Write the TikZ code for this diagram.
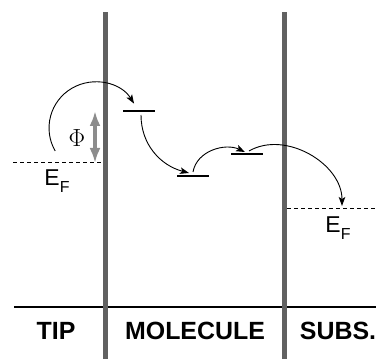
\documentclass[tikz,border=0pt]{standalone}
\usepackage{fontspec}
\setmainfont{Liberation Sans}
\usetikzlibrary{arrows.meta}
\tikzset{
  bar/.style={line width=4.5bp, draw=black!62},
  level/.style={line width=2bp},
  hop/.style={line width=0.9bp, -{Stealth[length=9bp,width=6.5bp,inset=2bp]}},
  fermi/.style={line width=0.9bp, dash pattern=on 4bp off 3bp},
  region/.style={font=\fontsize{25}{28}\selectfont\bfseries},
  eflabel/.style={font=\fontsize{23}{27}\selectfont, inner sep=0pt},
}
\newcommand{\EF}{E\raisebox{-0.28em}{\fontsize{16}{18}\selectfont F}}
\begin{document}
\begin{tikzpicture}[x=1bp,y=1bp]
\useasboundingbox (0,0) rectangle (376,359);
% base line and bars
\coordinate (hl) at (14,52);
\coordinate (hr) at (376,52);
\draw[line width=1.2bp] (hl) -- (hr);
\coordinate (b1t) at (105.5,346.5);
\coordinate (b1b) at (105.5,0);
\coordinate (b2t) at (284.5,346.5);
\coordinate (b2b) at (284.5,0);
\draw[bar] (b1t) -- (b1b);
\draw[bar] (b2t) -- (b2b);
% region labels
\node[region] (tip) at (56,28) {TIP};
\node[region] (mol) at (195,28) {MOLECULE};
\node[region] (sub) at (338,28) {SUBS.};
% Fermi levels
\coordinate (fl) at (13,197);
\coordinate (fr) at (103,197);
\draw[fermi] (fl) -- (fr);
\coordinate (sl) at (287,151);
\coordinate (sr) at (376,151);
\draw[fermi] (sl) -- (sr);
\node[eflabel] (ef1) at (57,178) {\EF};
\node[eflabel] (ef2) at (338,131) {\EF};
% work function
\coordinate (pt) at (95,248);
\coordinate (pb) at (95,196);
\draw[line width=3.5bp, draw=black!45, {Latex[length=15bp,width=11bp]}-{Latex[length=15bp,width=11bp]}] (pt) -- (pb);
\node[font=\fontsize{26}{28}\selectfont] (phi) at (77,221) {$\Phi$};
% molecular levels
\coordinate (l1a) at (123,248); \coordinate (l1b) at (155,248);
\coordinate (l2a) at (177,183); \coordinate (l2b) at (209,183);
\coordinate (l3a) at (231,205); \coordinate (l3b) at (263,205);
\draw[level] (l1a) -- (l1b);
\draw[level] (l2a) -- (l2b);
\draw[level] (l3a) -- (l3b);
% hops
\coordinate (h1s) at (55.2,208);
\draw[hop] (h1s) arc[start angle=210, end angle=32, radius=46];
\coordinate (h2s) at (141,244);
\coordinate (h2e) at (189,186);
\draw[hop] (h2s) to[out=-90, in=165] (h2e);
\coordinate (h3s) at (193,187);
\coordinate (h3e) at (245,207);
\draw[hop] (h3s) to[out=80, in=155] (h3e);
\coordinate (h4s) at (249,208);
\coordinate (h4e) at (342,153);
\draw[hop] (h4s) to[out=30, in=90] (h4e);
\end{tikzpicture}
\end{document}
